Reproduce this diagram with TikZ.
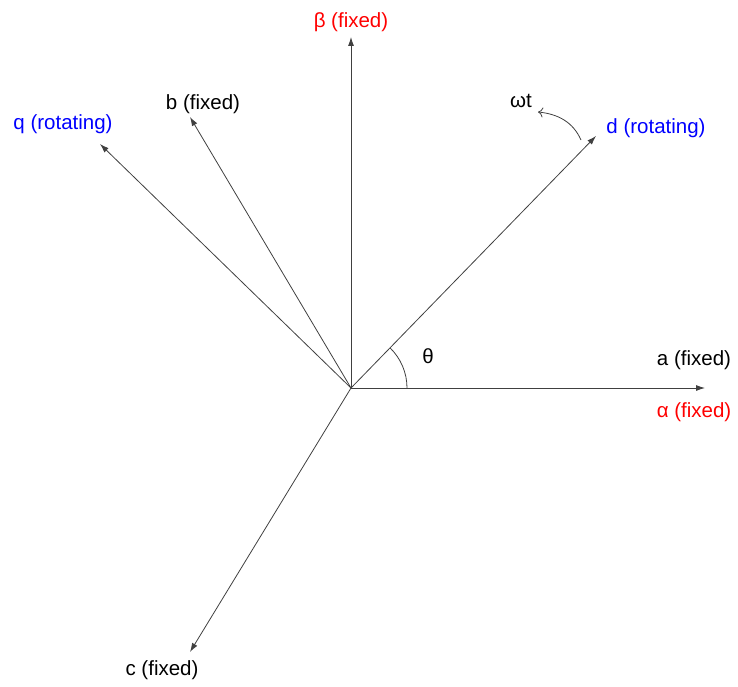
\documentclass[tikz,border=0pt]{standalone}
\usepackage{fontspec}
\setmainfont{Liberation Sans}
\usetikzlibrary{arrows.meta}
\definecolor{axred}{RGB}{255,0,0}
\definecolor{axblue}{RGB}{0,0,255}
\begin{document}
\begin{tikzpicture}[x=1pt,y=-1pt,
  axis/.style={draw=black!75, line width=0.8pt, -{Latex[length=9pt,width=6pt]}},
  lbl/.style={font=\fontsize{20.5}{24}\selectfont, inner sep=0pt},
  redlbl/.style={lbl, text=axred},
  bluelbl/.style={lbl, text=axblue}]
\useasboundingbox (0,0) rectangle (738,687);
\coordinate (O) at (351,388);
\coordinate (ta) at (705,388);
\coordinate (tbeta) at (351,37);
\coordinate (td) at (596,136);
\coordinate (tb) at (190,117);
\coordinate (tq) at (100,144);
\coordinate (tc) at (190,652);
\draw[axis] (O) -- (ta);
\draw[axis] (O) -- (tbeta);
\draw[axis] (O) -- (td);
\draw[axis] (O) -- (tb);
\draw[axis] (O) -- (tq);
\draw[axis] (O) -- (tc);
\node[lbl] (la) at (694,360) {a (fixed)};
\node[redlbl] (lalpha) at (694,412) {α (fixed)};
\node[redlbl] (lbeta) at (351,22) {β (fixed)};
\node[bluelbl] (ld) at (656,128) {d (rotating)};
\node[lbl] (lb) at (203,104) {b (fixed)};
\node[bluelbl] (lq) at (63,124) {q (rotating)};
\node[lbl] (lc) at (162,670) {c (fixed)};
\node[lbl] (lw) at (521,101) {ωt};
\node[lbl] (lth) at (428,356) {θ};
\coordinate (ws) at (581,140);
\coordinate (we) at (538,112);
\draw[draw=black!75, line width=0.8pt, -{To[length=5pt,width=10pt]}] (ws) .. controls (573,122) and (558,114) .. (we);
\draw[draw=black!75, line width=0.8pt] ([shift={(0:56)}]O) arc[start angle=0, end angle=-45.8, radius=56];
\end{tikzpicture}
\end{document}
